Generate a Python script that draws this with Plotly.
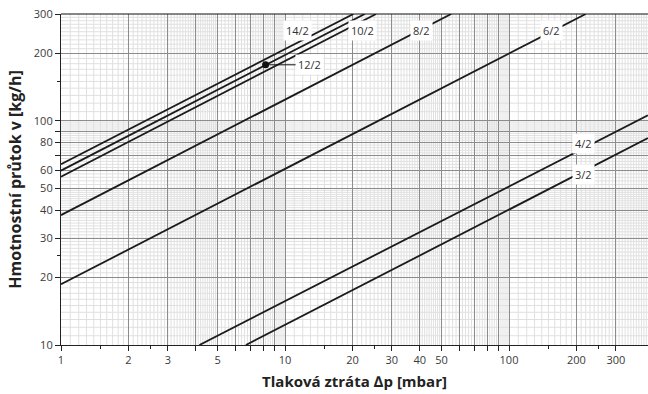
import numpy as np
import plotly.graph_objects as go

# Valve presetting curves: mass flow [kg/h] versus pressure loss [mbar]
settings = ["14/2", "12/2", "10/2", "8/2", "6/2", "4/2", "3/2"]
dp_start = [1.0, 1.0, 1.0, 1.0, 1.0, 4.15, 6.69]
flow_start = [64.1, 60.0, 56.4, 38.0, 18.66, 10.0, 10.0]
dp_end = [20.2, 22.7, 25.5, 55.2, 220.0, 417.0, 417.0]
flow_end = [300.0, 300.0, 300.0, 300.0, 300.0, 106.0, 83.8]

# Curve labels
label_dp = [11.4, 12.9, 22.2, 40.5, 154.0, 214.0, 214.0]
label_flow = [252.0, 178.0, 252.0, 252.0, 252.0, 79.5, 57.4]

# Marked reading point on the 12/2 curve
point_dp = [8.19]
point_flow = [178.0]

# Axis ticks
x_tickvals = [1, 2, 3, 4, 5, 6, 7, 8, 9, 10, 20, 30, 40, 50, 60, 70, 80, 90, 100, 200, 300]
x_ticktext = ["1", "2", "3", "", "5", "", "", "", "", "10", "20", "30", "40", "50",
              "", "", "", "", "100", "200", "300"]
x_minor_ticks = [1.5, 2.5, 15, 25, 150, 250]
y_tickvals = [10, 20, 30, 40, 50, 60, 70, 80, 90, 100, 200, 300]
y_ticktext = ["10", "20", "30", "40", "50", "60", "", "80", "", "100", "200", "300"]
y_minor_ticks = [25, 150]

X_MAX = 10 ** 2.6205
Y_MIN, Y_MAX = 10, 300


def fine_grid(lo, hi):
    """Light graph-paper lines: 0.1 steps up to 5, 0.2 steps up to 10, per decade."""
    vals = []
    decade = 1.0
    while decade <= hi:
        steps = np.concatenate([np.arange(1.0, 5.0, 0.1), np.arange(5.0, 10.0, 0.2)])
        for m in steps:
            v = round(m * decade, 6)
            if lo < v < hi:
                vals.append(v)
        decade *= 10
    return vals


fig = go.Figure()

line_color = "#1b1b1b"
for name, x0, y0, x1, y1 in zip(settings, dp_start, flow_start, dp_end, flow_end):
    fig.add_trace(go.Scatter(
        x=[x0, x1], y=[y0, y1], mode="lines", name=name,
        line=dict(color=line_color, width=1.8), showlegend=False, hoverinfo="skip",
    ))

fig.add_trace(go.Scatter(
    x=point_dp, y=point_flow, mode="markers", showlegend=False,
    marker=dict(color="#111111", size=7, line=dict(color="#111111", width=0)),
    hoverinfo="skip",
))

shapes = []
light = "#e0e0e0"
for v in fine_grid(1, X_MAX):
    shapes.append(dict(type="line", xref="x", yref="paper", x0=v, x1=v, y0=0, y1=1,
                       layer="below", line=dict(color=light, width=1)))
for v in fine_grid(Y_MIN, Y_MAX):
    shapes.append(dict(type="line", xref="paper", yref="y", x0=0, x1=1, y0=v, y1=v,
                       layer="below", line=dict(color=light, width=1)))
# top border of the chart area
shapes.append(dict(type="line", xref="paper", yref="paper", x0=0, x1=1, y0=1, y1=1,
                   line=dict(color="#111111", width=1.2)))

annotations = []
label_font = dict(family="Open Sans, sans-serif", size=11, color="#333333")
for name, lx, ly in zip(settings, label_dp, label_flow):
    if name == "12/2":
        continue
    annotations.append(dict(
        x=np.log10(lx), y=np.log10(ly), xref="x", yref="y", text=name,
        showarrow=False, bgcolor="white", font=label_font, borderpad=2,
    ))
# 12/2 label with a leader line to the marked point
annotations.append(dict(
    x=np.log10(point_dp[0]), y=np.log10(point_flow[0]), xref="x", yref="y",
    text="12/2", showarrow=True, arrowhead=0, arrowwidth=1, arrowcolor="#111111",
    ax=44, ay=0, bgcolor="white", font=label_font, borderpad=2, standoff=0,
))

axis_font = dict(family="Open Sans, sans-serif", size=11, color="#3a3a3a")
x_title_font = dict(family="Open Sans, sans-serif", size=15, color="#222222")
y_title_font = dict(family="Open Sans, sans-serif", size=16, color="#222222")

fig.update_layout(
    width=648, height=394,
    margin=dict(l=61, r=0, t=14, b=49),
    paper_bgcolor="white", plot_bgcolor="white",
    shapes=shapes, annotations=annotations,
    xaxis=dict(
        type="log", range=[0, np.log10(X_MAX)],
        tickmode="array", tickvals=x_tickvals, ticktext=x_ticktext,
        ticks="outside", ticklen=5, tickwidth=1, tickcolor="#222222",
        showgrid=True, gridcolor="#8c8c8c", gridwidth=1,
        showline=True, linecolor="#222222", linewidth=1.2,
        tickfont=axis_font, zeroline=False,
        minor=dict(tickmode="array", tickvals=x_minor_ticks, ticks="outside",
                   ticklen=3, tickcolor="#222222", showgrid=False),
        title=dict(text="<b>Tlaková ztráta ∆p [mbar]</b>", font=x_title_font, standoff=10),
    ),
    yaxis=dict(
        type="log", range=[np.log10(Y_MIN), np.log10(Y_MAX)],
        tickmode="array", tickvals=y_tickvals, ticktext=y_ticktext,
        ticks="outside", ticklen=5, tickwidth=1, tickcolor="#222222",
        showgrid=True, gridcolor="#8c8c8c", gridwidth=1,
        showline=True, linecolor="#222222", linewidth=1.2,
        tickfont=axis_font, zeroline=False,
        minor=dict(tickmode="array", tickvals=y_minor_ticks, ticks="outside",
                   ticklen=3, tickcolor="#222222", showgrid=False),
        title=dict(text="<b>Hmotnostní průtok v [kg/h]</b>", font=y_title_font, standoff=8),
    ),
)

fig.write_html("out.html")
